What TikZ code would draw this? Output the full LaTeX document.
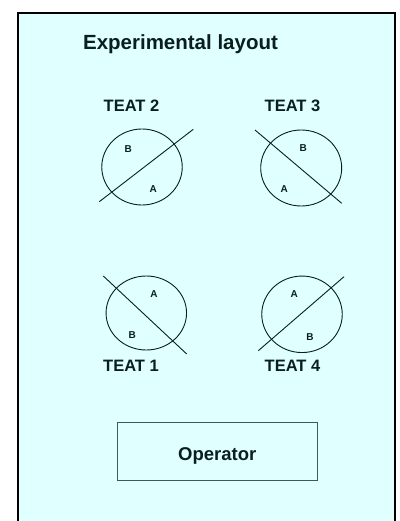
\documentclass[tikz,border=0pt]{standalone}
\usepackage{fontspec}
\setmainfont{Liberation Sans}
\usetikzlibrary{shapes.geometric}
\definecolor{panel}{HTML}{E0FFFF}
\definecolor{ink}{HTML}{0A1E1E}
\definecolor{boxedge}{HTML}{3C5858}
\tikzset{
  teat/.style={draw=ink, line width=0.9pt, ellipse, inner sep=0pt},
  divider/.style={draw=ink, line width=0.9pt},
  side/.style={font=\fontsize{10}{12}\selectfont\bfseries, text=ink, inner sep=0pt},
  teatlabel/.style={font=\fontsize{16.5}{19}\selectfont\bfseries, text=ink, inner sep=0pt},
}
\begin{document}
\begin{tikzpicture}[x=1pt, y=-1pt]
\useasboundingbox (0,0) rectangle (399,521);
% panel
\fill[panel] (18,13) rectangle (395,530);
\draw[black, line width=2pt] (18,540) -- (18,13) -- (395,13) -- (395,540);
\node[font=\fontsize{20.5}{24}\selectfont\bfseries, text=ink, inner sep=0pt, anchor=base] (title) at (180.5,49.5) {Experimental layout};

% TEAT 2
\node[teatlabel] (t2) at (131.5,106.2) {TEAT 2};
\node[teat, minimum width=80.5pt, minimum height=76pt] (c2) at (142,167) {};
\draw[divider] (99.3,201.7) -- (193.3,129.3);
\node[side] (c2b) at (128.3,149) {B};
\node[side] (c2a) at (153.3,189.3) {A};

% TEAT 3
\node[teatlabel] (t3) at (292.5,106.2) {TEAT 3};
\node[teat, minimum width=81pt, minimum height=76pt] (c3) at (301.2,168) {};
\draw[divider] (255,130) -- (341.7,203.3);
\node[side] (c3b) at (303.3,148.3) {B};
\node[side] (c3a) at (284.3,189.3) {A};

% TEAT 1
\node[teat, minimum width=80.5pt, minimum height=74pt] (c1) at (146.3,313) {};
\draw[divider] (103.3,276) -- (186.7,354);
\node[side] (c1a) at (154,294) {A};
\node[side] (c1b) at (132.3,335) {B};
\node[teatlabel] (t1) at (131,365.5) {TEAT 1};

% TEAT 4
\node[teat, minimum width=80.5pt, minimum height=76.5pt] (c4) at (302,314.3) {};
\draw[divider] (258.3,350.7) -- (344,276.7);
\node[side] (c4a) at (294.3,294.3) {A};
\node[side] (c4b) at (310,336.7) {B};
\node[teatlabel] (t4) at (292.5,366) {TEAT 4};

% operator position
\node[draw=boxedge, line width=0.9pt, minimum width=199.6pt, minimum height=58.4pt] (op) at (217.5,451.5) {};
\node[font=\fontsize{18.5}{22}\selectfont\bfseries, text=ink, inner sep=0pt, anchor=base] (optext) at (217.2,460) {Operator};
\end{tikzpicture}
\end{document}
